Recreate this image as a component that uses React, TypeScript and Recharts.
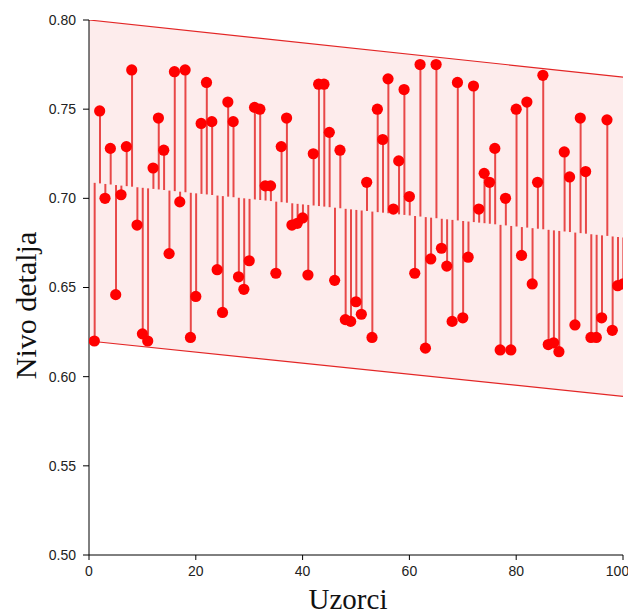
import React from 'react';
import { ComposedChart, XAxis, YAxis, Area, Line, Bar, Scatter, Label } from 'recharts';

// Sample numbers (x categories)
const sampleIndex = [
  1, 2, 3, 4, 5, 6, 7, 8, 9, 10, 11, 12, 13, 14, 15, 16, 17, 18, 19, 20,
  21, 22, 23, 24, 25, 26, 27, 28, 29, 30, 31, 32, 33, 34, 35, 36, 37, 38, 39, 40,
  41, 42, 43, 44, 45, 46, 47, 48, 49, 50, 51, 52, 53, 54, 55, 56, 57, 58, 59, 60,
  61, 62, 63, 64, 65, 66, 67, 68, 69, 70, 71, 72, 73, 74, 75, 76, 77, 78, 79, 80,
  81, 82, 83, 84, 85, 86, 87, 88, 89, 90, 91, 92, 93, 94, 95, 96, 97, 98, 99, 100,
];

// Level of detail per sample
const detailLevel = [
  0.620, 0.749, 0.700, 0.728, 0.646, 0.702, 0.729, 0.772, 0.685, 0.624,
  0.620, 0.717, 0.745, 0.727, 0.669, 0.771, 0.698, 0.772, 0.622, 0.645,
  0.742, 0.765, 0.743, 0.660, 0.636, 0.754, 0.743, 0.656, 0.649, 0.665,
  0.751, 0.750, 0.707, 0.707, 0.658, 0.729, 0.745, 0.685, 0.686, 0.689,
  0.657, 0.725, 0.764, 0.764, 0.737, 0.654, 0.727, 0.632, 0.631, 0.642,
  0.635, 0.709, 0.622, 0.750, 0.733, 0.767, 0.694, 0.721, 0.761, 0.701,
  0.658, 0.775, 0.616, 0.666, 0.775, 0.672, 0.662, 0.631, 0.765, 0.633,
  0.667, 0.763, 0.694, 0.714, 0.709, 0.728, 0.615, 0.700, 0.615, 0.750,
  0.668, 0.754, 0.652, 0.709, 0.769, 0.618, 0.619, 0.614, 0.726, 0.712,
  0.629, 0.745, 0.715, 0.622, 0.622, 0.633, 0.744, 0.626, 0.651, 0.652,
];

// Trend line and band (values at x = 0 and x = 100)
const bandX = [0, 100];
const trendLine = [0.709, 0.678];
const bandUpper = [0.800, 0.768];
const bandLower = [0.620, 0.589];

const xTicks = [0, 20, 40, 60, 80, 100];
const yTicks = [0.5, 0.55, 0.6, 0.65, 0.7, 0.75, 0.8];

const trendAt = (x: number) =>
  trendLine[0] + ((trendLine[1] - trendLine[0]) * (x - bandX[0])) / (bandX[1] - bandX[0]);

type Row = {
  x: number;
  band?: [number, number];
  upper?: number;
  lower?: number;
  stem?: [number, number];
};

const rows: Row[] = [];
rows.push({ x: bandX[0], band: [bandLower[0], bandUpper[0]], upper: bandUpper[0], lower: bandLower[0] });
sampleIndex.forEach((x, i) => {
  const v = detailLevel[i];
  const b = trendAt(x);
  const row: Row = { x, stem: [Math.min(v, b), Math.max(v, b)] };
  if (x === bandX[1]) {
    row.band = [bandLower[1], bandUpper[1]];
    row.upper = bandUpper[1];
    row.lower = bandLower[1];
  }
  rows.push(row);
});

const points = sampleIndex.map((x, i) => ({ x, y: detailLevel[i] }));

const RED = '#ff0000';

const Dot = (props: any) => {
  const { cx, cy } = props;
  if (cx == null || cy == null) return null;
  return <circle cx={cx} cy={cy} r={5.6} fill={RED} stroke="none" />;
};

const YTitle = (props: any) => {
  const vb = props.viewBox || {};
  const cx = 28;
  const cy = (vb.y ?? 12) + (vb.height ?? 535) / 2 + 18;
  return (
    <text
      x={cx}
      y={cy}
      transform={`rotate(-90, ${cx}, ${cy})`}
      textAnchor="middle"
      fontFamily="'Liberation Serif', 'Times New Roman', serif"
      fontSize={30}
      fill="#111"
    >
      Nivo detalja
    </text>
  );
};

const XTitle = (props: any) => {
  const vb = props.viewBox || {};
  const cx = (vb.x ?? 81) + (vb.width ?? 534) / 2 - 8;
  return (
    <text
      x={cx}
      y={601}
      textAnchor="middle"
      fontFamily="'Liberation Serif', 'Times New Roman', serif"
      fontSize={29}
      fill="#111"
    >
      Uzorci
    </text>
  );
};

const tickStyle = { fontSize: 14, fill: '#222', fontFamily: "'Liberation Sans', Arial, sans-serif" };

export default function App() {
  return (
    <ComposedChart
      width={620}
      height={608}
      data={rows}
      margin={{ top: 12, right: 5, left: 0, bottom: 0 }}
      style={{ overflow: 'visible' }}
    >
      <XAxis
        dataKey="x"
        type="number"
        domain={[0, 100]}
        ticks={xTicks}
        allowDataOverflow
        height={61}
        tickSize={5}
        tickMargin={6}
        tick={tickStyle}
        axisLine={{ stroke: '#000' }}
        tickLine={{ stroke: '#000' }}
      >
        <Label content={<XTitle />} />
      </XAxis>
      <YAxis
        type="number"
        domain={[0.5, 0.8]}
        ticks={yTicks}
        allowDataOverflow
        width={81}
        tickSize={6}
        tickMargin={7}
        tick={tickStyle}
        tickFormatter={(v: number) => v.toFixed(2)}
        axisLine={{ stroke: '#000' }}
        tickLine={{ stroke: '#000' }}
      >
        <Label content={<YTitle />} />
      </YAxis>
      <Area
        dataKey="band"
        type="linear"
        connectNulls
        fill="#fdecec"
        fillOpacity={1}
        stroke="none"
        isAnimationActive={false}
      />
      <Line dataKey="upper" type="linear" connectNulls stroke="#e32626" strokeWidth={1.2} dot={false} isAnimationActive={false} />
      <Line dataKey="lower" type="linear" connectNulls stroke="#e32626" strokeWidth={1.2} dot={false} isAnimationActive={false} />
      <Bar dataKey="stem" barSize={2} fill="#e84848" isAnimationActive={false} />
      <Scatter data={points} dataKey="y" shape={<Dot />} isAnimationActive={false} />
    </ComposedChart>
  );
}
